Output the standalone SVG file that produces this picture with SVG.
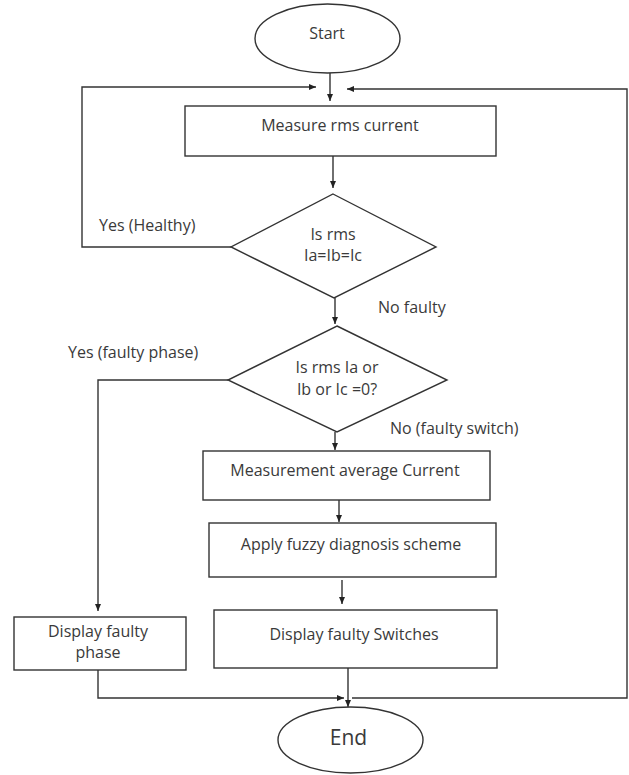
<svg xmlns="http://www.w3.org/2000/svg" width="629" height="775" viewBox="0 0 629 775">
<style>
.shape{fill:#fff;stroke:#333;stroke-width:1.4}
.conn{fill:none;stroke:#333;stroke-width:1.4}
.t{font-family:"Open Sans","Liberation Sans",sans-serif;font-size:16px;fill:#3a3a3a}
.c{text-anchor:middle}
</style>
<defs>
<marker id="ah" markerUnits="userSpaceOnUse" markerWidth="8" markerHeight="8" refX="7" refY="3" orient="auto">
<path d="M0,0 L7,3 L0,6 Z" fill="#222"/>
</marker>
</defs>
<rect width="629" height="775" fill="#fff"/>
<g id="connectors">
<line class="conn" x1="330" y1="73" x2="330" y2="101" marker-end="url(#ah)"/>
<polyline class="conn" points="231,247 82,247 82,87 316,87" marker-end="url(#ah)"/>
<polyline class="conn" points="352,698 627,698 627,89 347,89" marker-end="url(#ah)"/>
<line class="conn" x1="333" y1="156" x2="333" y2="188" marker-end="url(#ah)"/>
<line class="conn" x1="335" y1="298" x2="335" y2="324" marker-end="url(#ah)"/>
<polyline class="conn" points="228,380 98,380 98,611" marker-end="url(#ah)"/>
<line class="conn" x1="335" y1="432" x2="335" y2="450" marker-end="url(#ah)"/>
<line class="conn" x1="339" y1="500" x2="339" y2="522" marker-end="url(#ah)"/>
<line class="conn" x1="342" y1="580" x2="342" y2="604" marker-end="url(#ah)"/>
<polyline class="conn" points="98,670 98,698 344,698" marker-end="url(#ah)"/>
<line class="conn" x1="348" y1="668" x2="348" y2="707" marker-end="url(#ah)"/>
</g>
<g id="start">
<ellipse class="shape" cx="327.5" cy="38.5" rx="72.5" ry="34.5"/>
<text class="t c" x="327" y="39">Start</text>
</g>
<g id="measure-rms">
<rect class="shape" x="185" y="106" width="311" height="50"/>
<text class="t c" x="340" y="131">Measure rms current</text>
</g>
<g id="decision-balanced">
<polygon class="shape" points="333,194 436,247 334,298 231,247"/>
<text class="t c" x="333" y="240">Is rms</text>
<text class="t c" x="333" y="261">Ia=Ib=Ic</text>
</g>
<g id="decision-zero">
<polygon class="shape" points="337,326 447,380 337,432 228,380"/>
<text class="t c" x="337" y="373">Is rms Ia or</text>
<text class="t c" x="337" y="395">Ib or Ic =0?</text>
</g>
<g id="measure-average">
<rect class="shape" x="203" y="451" width="287" height="49"/>
<text class="t c" x="345" y="476">Measurement average Current</text>
</g>
<g id="fuzzy">
<rect class="shape" x="209" y="523" width="287" height="54"/>
<text class="t c" x="351" y="550">Apply fuzzy diagnosis scheme</text>
</g>
<g id="display-switches">
<rect class="shape" x="214" y="610" width="283" height="58"/>
<text class="t c" x="354" y="640">Display faulty Switches</text>
</g>
<g id="display-phase">
<rect class="shape" x="14" y="617" width="172" height="53"/>
<text class="t c" x="98" y="637">Display faulty</text>
<text class="t c" x="98" y="658">phase</text>
</g>
<g id="end">
<ellipse class="shape" cx="350.5" cy="740" rx="72.5" ry="33"/>
<text class="t c" x="348.5" y="745" style="font-size:21px">End</text>
</g>
<g id="labels">
<text class="t" x="99" y="231">Yes (Healthy)</text>
<text class="t" x="378" y="313">No faulty</text>
<text class="t" x="68" y="358">Yes (faulty phase)</text>
<text class="t" x="390" y="434">No (faulty switch)</text>
</g>
</svg>
